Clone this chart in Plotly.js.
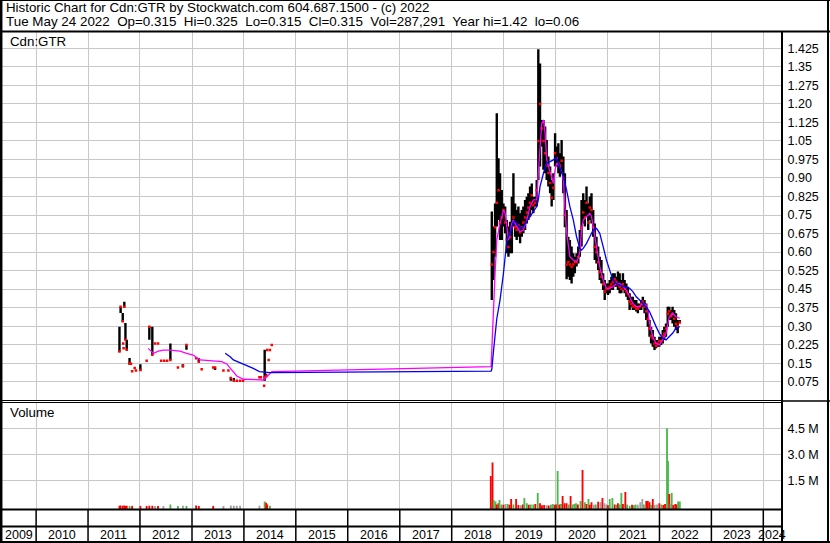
<!DOCTYPE html>
<html><head><meta charset="utf-8">
<script src="https://cdn.plot.ly/plotly-3.0.1.min.js"></script>
<style>html,body{margin:0;padding:0;background:#fff;overflow:hidden}#chart{width:830px;height:543px}</style>
</head><body><div id="chart"></div>
<script>
// ---------- DATA ----------
const headerLine1 = "Historic Chart for Cdn:GTR by Stockwatch.com 604.687.1500 - (c) 2022";
const headerLine2 = "Tue May 24 2022  Op=0.315  Hi=0.325  Lo=0.315  Cl=0.315  Vol=287,291  Year hi=1.42  lo=0.06";
const symbolLabel = "Cdn:GTR";
const volumeLabel = "Volume";

const dates = ["2011-08-10","2011-08-18","2011-09-02","2011-09-05","2011-09-08","2011-09-13","2011-09-21","2011-09-30","2011-10-20","2011-10-30","2011-11-07","2011-11-25","2011-12-04",
"2012-01-04","2012-02-17","2012-03-07","2012-03-28","2012-04-16","2012-05-07","2012-05-29","2012-06-20","2012-07-10","2012-08-02","2012-09-24","2012-10-29","2012-11-23",
"2013-01-30","2013-02-18","2013-03-10","2013-05-30","2013-06-12","2013-08-10","2013-09-14","2013-10-01","2013-10-22","2013-11-12","2013-12-05","2013-12-26",
"2014-04-20","2014-04-30","2014-05-23","2014-05-27","2014-06-06","2014-06-14","2014-06-24","2014-07-03","2014-07-16",
"2018-10-10","2018-10-22","2018-11-02","2018-11-14","2018-11-26","2018-12-07","2018-12-19","2018-12-31",
"2019-01-12","2019-01-24","2019-02-04","2019-02-16","2019-02-28","2019-03-11","2019-03-23","2019-04-03","2019-04-15","2019-04-27","2019-05-09","2019-05-20","2019-06-01","2019-06-13","2019-06-24","2019-07-06","2019-07-18","2019-07-29","2019-08-10","2019-08-22","2019-09-02","2019-09-14","2019-09-26","2019-10-08","2019-10-20","2019-10-31","2019-11-12","2019-11-24","2019-12-05","2019-12-17","2019-12-29",
"2020-01-09","2020-01-21","2020-02-01","2020-02-13","2020-02-25","2020-03-07","2020-03-19","2020-03-31","2020-04-11","2020-04-23","2020-05-05","2020-05-16","2020-05-28","2020-06-09","2020-06-20","2020-07-02","2020-07-14","2020-07-25","2020-08-06","2020-08-18","2020-08-29","2020-09-10","2020-09-22","2020-10-03","2020-10-15","2020-10-27","2020-11-07","2020-11-19","2020-12-01","2020-12-12","2020-12-24",
"2021-01-04","2021-01-16","2021-01-28","2021-02-08","2021-02-20","2021-03-04","2021-03-15","2021-03-27","2021-04-08","2021-04-19","2021-05-01","2021-05-13","2021-05-24","2021-06-05","2021-06-17","2021-06-28","2021-07-10","2021-07-22","2021-08-02","2021-08-14","2021-08-26","2021-09-06","2021-09-18","2021-09-30","2021-10-11","2021-10-23","2021-11-03","2021-11-15","2021-11-27","2021-12-08","2021-12-20","2021-12-31",
"2022-01-12","2022-01-24","2022-02-04","2022-02-16","2022-02-28","2022-03-11","2022-03-23","2022-04-03","2022-04-15","2022-04-27","2022-05-09","2022-05-24"];
const high = [0.298,0.379,0.353,0.23,0.21,0.399,0.313,0.245,0.171,0.148,0.117,0.13,0.12,
0.146,0.16,0.298,0.298,0.23,0.23,0.16,0.16,0.16,0.23,0.133,0.146,0.224,
0.17,0.17,0.125,0.133,0.133,0.12,0.12,0.093,0.09,0.079,0.079,0.079,
0.093,0.093,0.059,0.204,0.107,0.203,0.163,0.203,0.224,
0.764,0.703,0.797,1.162,0.980,0.919,0.851,0.797,
0.784,0.730,0.703,0.723,0.824,0.919,0.797,0.770,0.784,0.757,0.770,0.784,0.811,0.824,0.838,0.865,0.878,0.824,0.824,0.892,1.421,1.364,1.135,1.135,1.108,1.054,0.987,0.946,0.892,0.919,1.081,
1.027,1.041,1.000,1.054,0.987,0.919,0.770,0.662,0.649,0.622,0.595,0.581,0.595,0.622,0.689,0.811,0.838,0.811,0.865,0.798,0.825,0.838,0.770,0.716,0.662,0.622,0.581,0.568,0.514,0.487,0.473,
0.473,0.487,0.500,0.514,0.514,0.500,0.521,0.514,0.487,0.514,0.487,0.473,0.460,0.433,0.419,0.419,0.406,0.406,0.392,0.392,0.406,0.419,0.406,0.392,0.365,0.325,0.298,0.284,0.257,0.244,0.244,0.257,
0.257,0.284,0.298,0.311,0.379,0.379,0.365,0.379,0.365,0.352,0.325,0.325];
const low = [0.196,0.353,0.317,0.23,0.21,0.379,0.245,0.204,0.144,0.148,0.117,0.13,0.12,
0.119,0.16,0.245,0.184,0.23,0.23,0.16,0.16,0.16,0.163,0.133,0.133,0.204,
0.17,0.156,0.125,0.133,0.122,0.12,0.12,0.079,0.079,0.079,0.079,0.079,
0.093,0.093,0.059,0.079,0.098,0.203,0.163,0.203,0.224,
0.406,0.487,0.581,0.703,0.730,0.649,0.649,0.703,
0.676,0.595,0.581,0.595,0.595,0.703,0.662,0.649,0.662,0.636,0.662,0.676,0.689,0.716,0.730,0.743,0.770,0.757,0.784,0.784,0.892,0.946,1.027,0.933,0.919,0.892,0.865,0.838,0.784,0.811,0.946,
0.946,0.919,0.905,0.919,0.838,0.700,0.490,0.500,0.487,0.473,0.500,0.514,0.541,0.554,0.581,0.622,0.716,0.703,0.743,0.689,0.730,0.716,0.662,0.568,0.554,0.527,0.487,0.473,0.446,0.406,0.433,
0.426,0.433,0.446,0.446,0.460,0.460,0.446,0.433,0.433,0.446,0.433,0.419,0.406,0.365,0.379,0.365,0.365,0.359,0.352,0.365,0.365,0.379,0.352,0.325,0.298,0.257,0.230,0.217,0.203,0.210,0.217,0.217,
0.224,0.230,0.244,0.257,0.298,0.325,0.325,0.311,0.298,0.284,0.271,0.315];
const close = [0.197,0.379,0.32,0.23,0.21,0.379,0.245,0.204,0.15,0.148,0.117,0.13,0.12,
0.122,0.16,0.298,0.184,0.23,0.23,0.16,0.16,0.16,0.163,0.133,0.14,0.224,
0.17,0.156,0.125,0.133,0.133,0.12,0.12,0.09,0.079,0.079,0.079,0.079,
0.093,0.093,0.059,0.093,0.098,0.203,0.163,0.203,0.224,
0.55,0.60,0.70,0.80,0.85,0.72,0.74,0.77,
0.72,0.65,0.62,0.66,0.70,0.74,0.70,0.69,0.71,0.68,0.70,0.72,0.74,0.76,0.78,0.80,0.83,0.79,0.80,0.85,1.05,1.20,1.10,1.05,1.00,0.95,0.92,0.88,0.82,0.86,1.00,
0.98,0.96,0.95,0.97,0.90,0.75,0.55,0.56,0.55,0.54,0.55,0.56,0.56,0.58,0.62,0.70,0.76,0.74,0.80,0.72,0.78,0.77,0.70,0.62,0.60,0.56,0.52,0.50,0.47,0.44,0.45,
0.45,0.46,0.47,0.48,0.49,0.48,0.47,0.46,0.45,0.47,0.45,0.44,0.43,0.40,0.39,0.38,0.38,0.37,0.37,0.38,0.39,0.40,0.38,0.36,0.33,0.29,0.26,0.25,0.23,0.22,0.23,0.24,
0.24,0.26,0.27,0.29,0.35,0.36,0.34,0.35,0.33,0.31,0.30,0.315];

const maShortDates = ["2012-02-28","2012-04-05","2012-05-10","2012-06-14","2012-07-30","2012-10-09","2012-11-24","2013-01-10","2013-02-27","2013-06-01","2013-07-30","2013-09-02","2013-10-08","2013-11-12","2013-12-28","2014-05-19","2014-06-23","2014-07-16",
"2018-10-05","2018-10-22","2018-11-02","2018-11-14","2018-12-07","2018-12-31","2019-01-12","2019-01-24","2019-02-04","2019-02-16","2019-02-28","2019-03-11","2019-04-03","2019-04-27","2019-05-20","2019-06-13","2019-07-06","2019-07-29","2019-08-22","2019-09-02","2019-09-14","2019-09-26","2019-10-08","2019-10-20","2019-10-31","2019-11-24","2019-12-17","2019-12-29",
"2020-01-09","2020-02-01","2020-02-25","2020-03-07","2020-03-19","2020-04-11","2020-05-05","2020-05-28","2020-06-09","2020-06-20","2020-07-02","2020-07-14","2020-08-06","2020-08-29","2020-09-10","2020-09-22","2020-10-03","2020-10-15","2020-11-07","2020-12-01","2020-12-24",
"2021-01-16","2021-02-08","2021-03-04","2021-03-27","2021-04-19","2021-05-13","2021-06-05","2021-06-28","2021-07-22","2021-08-14","2021-09-06","2021-09-30","2021-10-11","2021-10-23","2021-11-15","2021-12-08","2021-12-31",
"2022-01-24","2022-02-16","2022-03-11","2022-04-03","2022-04-27","2022-05-24"];
const maShort = [0.210,0.190,0.199,0.203,0.203,0.199,0.190,0.183,0.163,0.160,0.156,0.147,0.122,0.098,0.085,0.082,0.102,0.116,
0.136,0.406,0.514,0.649,0.716,0.770,0.757,0.703,0.649,0.676,0.716,0.730,0.703,0.683,0.689,0.730,0.784,0.811,0.811,0.919,1.027,1.121,1.135,1.081,0.973,0.919,0.878,0.933,
0.960,0.946,0.900,0.780,0.680,0.581,0.568,0.561,0.575,0.602,0.690,0.730,0.744,0.757,0.744,0.703,0.662,0.622,0.541,0.487,0.453,
0.453,0.460,0.473,0.473,0.460,0.446,0.419,0.392,0.379,0.379,0.392,0.386,0.365,0.311,0.257,0.230,0.224,
0.244,0.271,0.338,0.352,0.338,0.332];

const maLongDates = ["2013-08-22","2013-09-26","2013-10-19","2013-12-28","2014-03-08","2014-04-20","2014-07-03",
"2018-10-05","2018-10-10","2018-10-22","2018-11-14","2018-12-07","2018-12-31","2019-01-24","2019-02-16","2019-03-11","2019-03-23","2019-04-03","2019-04-15","2019-04-27","2019-05-20","2019-06-13","2019-07-06","2019-07-29","2019-08-22","2019-09-02","2019-09-14","2019-10-08","2019-10-31","2019-11-24","2019-12-17",
"2020-01-05","2020-01-21","2020-02-01","2020-02-25","2020-03-19","2020-04-11","2020-05-05","2020-05-28","2020-06-20","2020-07-02","2020-07-14","2020-08-06","2020-08-29","2020-09-22","2020-10-15","2020-11-07","2020-12-01","2020-12-24",
"2021-01-16","2021-02-08","2021-03-04","2021-03-27","2021-04-19","2021-05-13","2021-06-05","2021-06-28","2021-07-22","2021-08-14","2021-09-06","2021-09-30","2021-10-23","2021-11-15","2021-12-08","2021-12-31",
"2022-01-24","2022-02-16","2022-03-11","2022-04-03","2022-04-27","2022-05-24"];
const maLong = [0.190,0.176,0.163,0.147,0.129,0.116,0.112,
0.118,0.125,0.200,0.330,0.406,0.514,0.649,0.676,0.723,0.723,0.716,0.703,0.696,0.703,0.723,0.743,0.764,0.784,0.811,0.865,0.919,0.960,0.966,0.973,
0.984,0.960,0.946,0.905,0.851,0.784,0.730,0.662,0.615,0.608,0.615,0.635,0.662,0.689,0.696,0.676,0.622,0.568,
0.527,0.487,0.473,0.467,0.460,0.460,0.453,0.440,0.419,0.406,0.392,0.379,0.359,0.325,0.298,0.271,
0.251,0.244,0.257,0.271,0.291,0.298];

// volume in millions of shares; direction: u = up (green), d = down (red), n = unchanged (grey)
const volDates = ["2011-08-10","2011-08-18","2011-09-02","2011-09-13","2011-09-21","2011-09-30","2011-10-20","2011-11-07","2012-01-04","2012-02-17","2012-03-07","2012-03-28","2012-04-16","2012-05-07","2012-06-14","2012-08-02","2012-09-24","2012-10-29","2012-11-23","2013-01-30","2013-02-18","2013-05-30","2013-08-10","2013-10-01","2013-10-22","2013-11-12","2013-12-05","2014-04-20","2014-05-27","2014-06-06","2014-06-14","2014-07-03",
"2018-10-03","2018-10-15","2018-10-24","2018-11-05","2018-11-14","2018-11-26","2018-12-03","2018-12-17","2018-12-31","2019-01-14","2019-01-29","2019-02-11","2019-02-23","2019-03-11","2019-03-30","2019-04-15","2019-05-02","2019-05-16","2019-05-27","2019-06-13","2019-06-27","2019-07-11","2019-07-29","2019-08-12","2019-08-29","2019-09-14","2019-09-28","2019-10-13","2019-10-31","2019-11-14","2019-11-29","2019-12-12","2019-12-26",
"2020-01-05","2020-01-16","2020-01-28","2020-02-08","2020-02-20","2020-03-05","2020-03-19","2020-04-02","2020-04-16","2020-04-30","2020-05-12","2020-05-24","2020-06-06","2020-06-25","2020-07-09","2020-07-25","2020-08-06","2020-08-20","2020-08-29","2020-09-10","2020-09-26","2020-10-10","2020-10-27","2020-11-12","2020-11-26","2020-12-10","2020-12-24",
"2021-01-04","2021-01-16","2021-02-04","2021-02-20","2021-03-04","2021-03-15","2021-03-27","2021-04-08","2021-04-19","2021-05-06","2021-05-18","2021-06-05","2021-06-22","2021-07-05","2021-07-17","2021-08-02","2021-08-19","2021-09-02","2021-09-13","2021-09-30","2021-10-11","2021-10-23","2021-11-03","2021-11-15","2021-11-29","2021-12-15","2021-12-31",
"2022-01-14","2022-01-28","2022-02-09","2022-02-23","2022-03-02","2022-03-11","2022-03-20","2022-03-28","2022-04-08","2022-04-22","2022-05-02","2022-05-12","2022-05-24"];
const volM = [0.05,0.06,0.05,0.06,0.04,0.05,0.04,0.03,0.04,0.03,0.05,0.05,0.03,0.03,0.03,0.12,0.04,0.05,0.04,0.06,0.04,0.03,0.04,0.06,0.05,0.05,0.05,0.05,0.30,0.22,0.12,0.05,
1.76,2.54,0.38,0.30,0.12,0.19,0.38,0.12,0.10,0.15,0.15,0.10,0.44,0.12,0.44,0.09,0.08,0.12,0.49,0.19,0.10,0.12,0.12,0.15,0.78,0.19,0.08,0.09,0.08,0.06,0.10,0.15,0.10,
0.12,2.05,0.12,0.15,0.61,0.19,0.19,0.12,0.61,0.12,0.15,0.19,0.12,0.32,2.10,0.25,0.15,0.44,0.10,0.25,0.10,0.12,0.28,0.25,0.49,0.19,0.12,
0.08,0.44,0.49,0.12,0.10,0.19,0.12,0.78,0.15,0.84,0.12,0.05,0.10,0.08,0.12,0.10,0.25,0.44,0.12,0.32,0.32,0.25,0.10,0.44,0.10,0.12,0.19,
0.12,0.09,0.15,4.50,2.62,0.72,0.15,0.78,0.09,0.15,0.12,0.29,0.29];
const volDir = ["d","d","d","d","d","d","u","d","d","d","d","d","n","d","n","u","u","n","u","d","d","d","n","n","n","n","n","n","u","d","d","u",
"d","d","u","u","d","d","u","u","d","n","u","d","d","u","d","d","n","d","u","u","d","u","u","d","u","d","d","d","n","d","u","u","d",
"d","u","d","u","d","d","d","u","d","u","u","u","d","u","d","u","d","u","d","d","n","u","d","n","d","n","n",
"d","u","u","d","u","d","u","u","d","d","u","u","d","u","u","n","n","n","u","d","d","d","u","d","n","n","d",
"u","d","d","u","u","d","n","u","d","d","d","u","u"];

const priceTickLabels = ["0.075","0.15","0.225","0.30","0.375","0.45","0.525","0.60","0.675","0.75","0.825","0.90","0.975","1.05","1.125","1.20","1.275","1.35","1.425"];
const volTickLabels = ["1.5 M","3.0 M","4.5 M"];
const volTickValues = [1.5, 3.0, 4.5];
const yearLabels = ["2009","2010","2011","2012","2013","2014","2015","2016","2017","2018","2019","2020","2021","2022","2023","2024"];

// ---------- LAYOUT HELPERS ----------
const W = 830, H = 543;
const px = v => v / W;
const py = v => 1 - v / H;
const xRange = ["2009-05-06", "2024-05-08"];
const priceRange = [-0.0011, 1.4951];
const volRange = [-0.155, 5.983];
const FONT = "Liberation Sans, Arial, Helvetica, sans-serif";

// bars: high-low vertical segments
const barX = [], barY = [];
dates.forEach((d, i) => { barX.push(d, d, null); barY.push(low[i], high[i], null); });

const colorMap = {u: "#4cb84c", d: "#ff0000", n: "#a0a0a0"};
const DAY = 86400000;

const traces = [
  {type: "scatter", mode: "lines", x: barX, y: barY, xaxis: "x", yaxis: "y",
   line: {color: "#000000", width: 2.4}, connectgaps: false, hoverinfo: "skip"},
  {type: "scatter", mode: "markers", x: dates, y: close, xaxis: "x", yaxis: "y",
   marker: {color: "#ff0000", size: 2.5, symbol: "square", line: {width: 0}}},
  {type: "scatter", mode: "lines", x: maShortDates, y: maShort, xaxis: "x", yaxis: "y",
   line: {color: "#ff00ff", width: 1.3}},
  {type: "scatter", mode: "lines", x: maLongDates, y: maLong, xaxis: "x", yaxis: "y",
   line: {color: "#0000ff", width: 1.3}},
  {type: "bar", x: volDates, y: volM.map(v => v - volRange[0]), base: volRange[0],
   xaxis: "x2", yaxis: "y2", width: 13 * DAY,
   marker: {color: volDir.map(d => colorMap[d]), line: {width: 0}}}
];

const shapes = [];
const hline = (y, x0, x1, w) => shapes.push({type: "line", xref: "paper", yref: "paper", x0: px(x0), x1: px(x1), y0: py(y), y1: py(y), line: {color: "#000", width: w}});
const vline = (x, y0, y1, w) => shapes.push({type: "line", xref: "paper", yref: "paper", x0: px(x), x1: px(x), y0: py(y0), y1: py(y1), line: {color: "#000", width: w}});
hline(0.5, 0, 830, 1);
hline(31.5, 0, 830, 2);
hline(400.5, 0, 782, 1);
hline(402.5, 0, 782, 1);
hline(401, 782, 830, 1.5);
hline(509.5, 0, 782, 2);
hline(526.5, 0, 782, 2);
hline(542, 0, 830, 2);
vline(1.2, 0, 543, 2.5);
vline(782, 31, 543, 2);
vline(828, 0, 543, 2);
// year separators in the date strip
yearLabels.slice(1).forEach(y => shapes.push({type: "line", xref: "x", yref: "paper", x0: y + "-01-01", x1: y + "-01-01", y0: py(509.5), y1: py(542), line: {color: "#000", width: 1.5}}));

const annotations = [
  {xref: "paper", yref: "paper", x: px(4), y: py(8), xanchor: "left", yanchor: "middle", text: headerLine1, showarrow: false, font: {size: 13.3, color: "#000", family: FONT}},
  {xref: "paper", yref: "paper", x: px(4), y: py(21.5), xanchor: "left", yanchor: "middle", text: headerLine2.replace(/  /g, "&nbsp; "), showarrow: false, font: {size: 13.4, color: "#000", family: FONT}},
  {xref: "paper", yref: "paper", x: px(8), y: py(41.5), xanchor: "left", yanchor: "middle", text: symbolLabel, showarrow: false, font: {size: 13.3, color: "#000", family: FONT}},
  {xref: "paper", yref: "paper", x: px(8), y: py(413), xanchor: "left", yanchor: "middle", text: volumeLabel, showarrow: false, font: {size: 13.3, color: "#000", family: FONT}}
];
const t0 = Date.parse(xRange[0]), t1 = Date.parse(xRange[1]);
yearLabels.forEach(y => {
  const a = Math.max(t0, Date.parse(y + "-01-01"));
  const b = Math.min(t1, Date.parse((+y + 1) + "-01-01"));
  annotations.push({xref: "x", yref: "paper", x: new Date((a + b) / 2).toISOString().slice(0, 10), y: py(534.5),
    xanchor: "center", yanchor: "middle", text: y, showarrow: false, font: {size: 12.5, color: "#000", family: FONT}});
});

const xCommon = {type: "date", range: xRange, tick0: "2010-01-01", dtick: "M12", showgrid: true, gridcolor: "#c8c8c8", gridwidth: 1,
  showticklabels: false, ticks: "", zeroline: false, showline: false, fixedrange: true};

const layout = {
  width: W, height: H, margin: {l: 0, r: 0, t: 0, b: 0}, paper_bgcolor: "#fff", plot_bgcolor: "#fff",
  showlegend: false, font: {family: FONT, size: 12.5, color: "#000"}, hovermode: false,
  xaxis: Object.assign({}, xCommon, {domain: [px(2), px(781.5)], anchor: "y"}),
  xaxis2: Object.assign({}, xCommon, {domain: [px(2), px(781.5)], anchor: "y2", matches: "x"}),
  yaxis: {domain: [py(400.5), py(31)], range: priceRange, side: "right", anchor: "x",
    tickvals: priceTickLabels.map(Number), ticktext: priceTickLabels, showgrid: true, gridcolor: "#c8c8c8", gridwidth: 1,
    ticks: "", ticklabelstandoff: 5, zeroline: false, showline: false, fixedrange: true, tickfont: {size: 12.5, color: "#000"}},
  yaxis2: {domain: [py(509.3), py(402.5)], range: volRange, side: "right", anchor: "x2",
    tickvals: volTickValues, ticktext: volTickLabels, showgrid: true, gridcolor: "#c8c8c8", gridwidth: 1,
    ticks: "", ticklabelstandoff: 5, zeroline: false, showline: false, fixedrange: true, tickfont: {size: 12.5, color: "#000"}},
  shapes: shapes, annotations: annotations
};

Plotly.newPlot("chart", traces, layout, {staticPlot: true, displayModeBar: false});
</script></body></html>
